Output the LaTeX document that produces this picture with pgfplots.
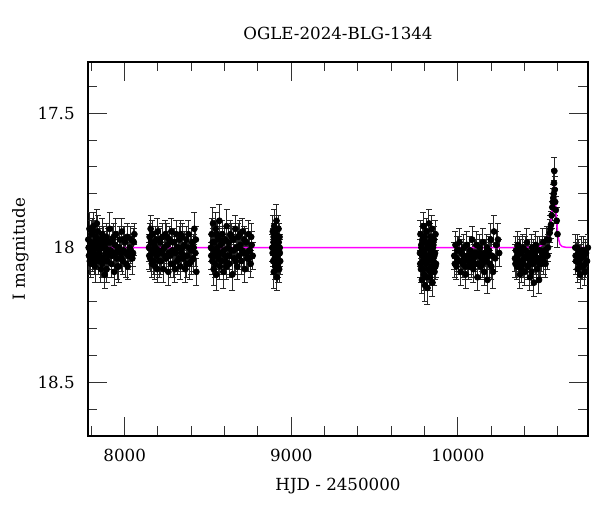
\documentclass[border=0pt]{standalone}
\usepackage{fontspec}
\setmainfont{DejaVu Serif}
\usepackage{pgfplots}
\usepackage{pgfplotstable}
\pgfplotsset{compat=1.18}
\definecolor{modelc}{RGB}{255,0,255}

% OGLE photometry: HJD-2450000, I mag, error
\pgfplotstableread{
x y e
7782 17.97 0.05
7786 18.03 0.05
7789 17.93 0.06
7793 18.01 0.05
7797 18.06 0.05
7801 17.95 0.05
7804 18.00 0.06
7808 18.04 0.05
7812 17.92 0.05
7815 18.02 0.05
7819 17.98 0.05
7823 18.07 0.06
7827 17.96 0.05
7831 18.03 0.05
7835 17.99 0.05
7839 17.94 0.06
7843 18.05 0.05
7848 18.01 0.05
7852 17.97 0.05
7857 18.08 0.05
7862 18.00 0.05
7866 17.95 0.06
7871 18.04 0.05
7876 17.99 0.05
7880 18.10 0.05
7885 18.02 0.05
7890 17.96 0.05
7895 18.05 0.06
7900 17.98 0.05
7905 18.03 0.05
7910 17.93 0.06
7915 18.01 0.05
7920 18.06 0.05
7926 17.97 0.05
7931 18.02 0.05
7937 18.09 0.05
7942 17.99 0.05
7948 17.95 0.06
7953 18.04 0.05
7959 18.00 0.05
7965 18.07 0.06
7971 17.97 0.05
7977 18.02 0.05
7983 17.94 0.05
7989 18.05 0.05
7995 18.01 0.05
8002 17.98 0.06
8008 18.06 0.05
8015 17.96 0.05
8022 18.03 0.05
8030 18.00 0.05
8038 17.97 0.05
8046 18.04 0.06
8055 17.98 0.05
8058 17.95 0.04
7784 18.00 0.05
7791 18.05 0.05
7799 17.98 0.05
7806 17.94 0.05
7817 18.05 0.05
7825 18.00 0.05
7833 17.91 0.05
7845 17.98 0.05
7854 18.03 0.05
7864 18.06 0.05
7873 17.97 0.05
7882 18.00 0.05
7892 18.08 0.05
7902 18.01 0.05
7912 17.98 0.05
7923 18.03 0.05
7934 17.96 0.05
7945 18.02 0.05
7956 18.07 0.05
7968 18.00 0.05
7980 18.04 0.05
7992 17.97 0.05
8005 18.02 0.05
8018 18.07 0.05
8034 18.01 0.05
8050 18.02 0.05
8146 18.00 0.05
8150 17.96 0.05
8154 18.04 0.05
8158 17.98 0.05
8163 18.06 0.05
8167 17.95 0.05
8172 18.02 0.05
8177 17.99 0.05
8182 18.07 0.05
8187 17.97 0.05
8192 18.03 0.05
8197 17.94 0.05
8203 18.01 0.05
8208 18.05 0.06
8214 17.98 0.05
8220 18.02 0.05
8226 17.96 0.05
8232 18.08 0.05
8238 18.00 0.05
8244 17.95 0.05
8250 18.04 0.05
8256 17.99 0.05
8262 18.09 0.05
8268 17.97 0.05
8274 18.03 0.05
8280 17.94 0.05
8286 18.01 0.05
8292 18.06 0.05
8298 17.98 0.05
8304 18.02 0.05
8310 17.95 0.05
8316 18.05 0.05
8322 18.00 0.05
8328 17.97 0.05
8334 18.07 0.05
8340 18.02 0.05
8346 17.96 0.05
8352 18.04 0.05
8358 17.99 0.05
8364 18.08 0.05
8370 17.97 0.05
8376 18.03 0.05
8383 17.95 0.05
8390 18.06 0.06
8397 18.01 0.05
8404 17.98 0.05
8411 18.04 0.05
8418 17.93 0.06
8424 18.02 0.05
8430 18.09 0.05
8148 18.03 0.05
8156 17.93 0.05
8165 18.01 0.05
8175 18.05 0.05
8185 18.00 0.05
8195 18.08 0.05
8206 17.97 0.05
8217 18.05 0.05
8229 18.01 0.05
8241 18.03 0.05
8253 17.96 0.05
8265 18.02 0.05
8277 18.06 0.05
8289 17.98 0.05
8301 18.08 0.05
8313 18.00 0.05
8325 18.04 0.05
8337 17.95 0.05
8349 18.00 0.05
8361 18.03 0.05
8373 18.06 0.05
8386 18.00 0.05
8400 18.05 0.05
8414 18.00 0.05
8427 17.97 0.05
8518 18.00 0.05
8522 17.95 0.06
8526 18.05 0.05
8530 17.91 0.06
8534 18.08 0.06
8538 17.98 0.05
8542 18.03 0.05
8546 17.93 0.06
8550 18.10 0.06
8555 18.00 0.05
8559 17.96 0.05
8563 18.04 0.05
8568 17.90 0.06
8572 18.07 0.05
8577 17.99 0.05
8582 18.02 0.05
8587 17.95 0.05
8592 18.09 0.06
8597 18.01 0.05
8602 17.97 0.05
8607 18.05 0.05
8612 17.92 0.06
8618 18.03 0.05
8623 17.98 0.05
8628 18.06 0.05
8634 17.95 0.05
8640 18.01 0.05
8646 18.10 0.06
8652 17.97 0.05
8658 18.04 0.05
8664 17.93 0.05
8670 18.00 0.05
8676 18.07 0.05
8682 17.96 0.05
8688 18.03 0.05
8694 17.99 0.05
8700 18.05 0.05
8707 17.94 0.05
8714 18.02 0.05
8721 18.08 0.05
8728 17.98 0.05
8735 18.04 0.05
8742 17.95 0.05
8749 18.01 0.05
8756 18.06 0.05
8762 17.99 0.05
8768 18.03 0.05
8520 18.03 0.05
8528 17.98 0.05
8536 18.01 0.05
8544 18.06 0.05
8552 17.95 0.05
8561 18.02 0.05
8570 17.97 0.05
8580 18.05 0.05
8590 17.98 0.05
8600 18.03 0.05
8610 18.07 0.05
8620 18.00 0.05
8631 18.03 0.05
8643 17.96 0.05
8655 18.01 0.05
8667 18.05 0.05
8679 18.00 0.05
8691 17.95 0.05
8704 18.01 0.05
8718 17.97 0.05
8732 18.02 0.05
8746 18.04 0.05
8759 17.96 0.05
8886 18.00 0.05
8889 17.94 0.06
8891 18.05 0.05
8893 17.98 0.05
8895 18.09 0.06
8897 17.92 0.06
8899 18.02 0.05
8901 17.96 0.05
8903 18.07 0.05
8905 18.00 0.05
8907 17.95 0.05
8909 18.04 0.05
8911 17.90 0.06
8913 18.11 0.05
8915 17.99 0.05
8917 18.03 0.05
8919 17.97 0.05
8921 18.06 0.05
8923 17.93 0.05
8925 18.01 0.05
8927 18.08 0.05
8929 17.96 0.05
8931 18.02 0.05
8933 18.05 0.05
8888 18.02 0.05
8894 17.96 0.05
8900 18.04 0.05
8906 17.99 0.05
8912 18.02 0.05
8918 18.08 0.05
8924 17.98 0.05
8930 18.00 0.05
9772 18.02 0.05
9775 17.95 0.05
9778 18.08 0.05
9781 18.00 0.05
9784 18.12 0.05
9787 17.97 0.05
9790 18.05 0.05
9793 17.92 0.05
9796 18.10 0.06
9799 18.01 0.05
9802 18.14 0.06
9805 17.98 0.05
9808 18.06 0.05
9811 17.94 0.05
9814 18.03 0.05
9817 18.15 0.06
9820 17.99 0.05
9823 18.08 0.05
9826 17.91 0.05
9829 18.04 0.05
9832 18.11 0.05
9835 17.96 0.05
9838 18.02 0.05
9841 18.07 0.05
9844 17.93 0.05
9847 18.13 0.05
9850 18.00 0.05
9853 18.05 0.05
9856 17.97 0.05
9859 18.09 0.05
9862 18.02 0.05
9865 17.95 0.05
9868 18.06 0.05
9774 18.06 0.05
9780 17.99 0.05
9786 18.03 0.05
9792 18.08 0.05
9798 17.96 0.05
9804 18.04 0.05
9810 18.11 0.05
9816 18.00 0.05
9822 18.05 0.05
9828 17.98 0.05
9834 18.09 0.05
9840 18.01 0.05
9846 18.04 0.05
9852 17.99 0.05
9858 18.03 0.05
9864 18.07 0.05
9978 18.03 0.05
9985 17.99 0.05
9991 18.07 0.05
9997 18.01 0.05
10003 18.05 0.05
10009 17.98 0.05
10016 18.09 0.05
10022 18.02 0.05
10028 18.06 0.05
10035 18.00 0.05
10041 18.04 0.05
10047 18.10 0.05
10054 17.99 0.05
10060 18.03 0.05
10066 18.07 0.05
10072 18.01 0.05
10079 18.05 0.05
10085 17.97 0.05
10092 18.08 0.05
10098 18.02 0.05
10104 18.06 0.05
10111 17.99 0.05
10117 18.11 0.05
10124 18.03 0.05
10130 18.00 0.05
10137 18.07 0.05
10143 18.04 0.05
10150 17.98 0.05
10157 18.09 0.05
10163 18.02 0.05
10170 18.05 0.06
10177 18.12 0.05
10184 18.01 0.05
10190 18.06 0.05
10197 17.97 0.06
10204 18.03 0.05
10210 18.09 0.06
10216 17.94 0.06
10223 18.04 0.05
10230 17.99 0.05
10240 17.97 0.06
10247 18.02 0.05
9981 18.06 0.05
9994 18.04 0.05
10006 18.01 0.05
10019 18.05 0.05
10032 18.03 0.05
10044 18.07 0.05
10057 18.05 0.05
10069 18.03 0.05
10082 18.06 0.05
10095 18.04 0.05
10108 18.02 0.05
10120 18.06 0.05
10134 18.02 0.05
10147 18.06 0.05
10160 18.04 0.05
10173 18.00 0.05
10187 18.03 0.05
10200 18.07 0.05
10342 18.04 0.05
10348 18.01 0.05
10354 18.07 0.05
10360 17.99 0.05
10366 18.05 0.05
10372 18.10 0.05
10378 18.02 0.05
10384 18.06 0.05
10390 18.00 0.05
10396 18.04 0.05
10402 18.09 0.05
10408 18.03 0.05
10414 17.98 0.05
10420 18.07 0.05
10426 18.02 0.05
10432 18.11 0.05
10438 18.04 0.05
10444 18.00 0.05
10450 18.06 0.05
10456 18.13 0.05
10462 18.03 0.05
10468 17.99 0.05
10474 18.08 0.05
10480 18.04 0.05
10486 18.12 0.05
10492 18.01 0.05
10498 18.06 0.05
10504 18.02 0.05
10510 17.98 0.05
10516 18.05 0.05
10522 18.01 0.05
10528 18.03 0.05
10534 17.97 0.05
10540 18.00 0.05
10345 18.06 0.05
10357 18.03 0.05
10369 18.01 0.05
10381 18.08 0.05
10393 18.06 0.05
10405 18.01 0.05
10417 18.04 0.05
10429 18.06 0.05
10441 18.09 0.05
10453 18.02 0.05
10465 18.05 0.05
10477 18.01 0.05
10489 18.06 0.05
10501 18.04 0.05
10513 18.02 0.05
10525 18.06 0.05
10537 18.03 0.05
10546 17.97 0.05
10550 17.945 0.05
10554 17.93 0.05
10558 17.915 0.05
10562 17.88 0.05
10566 17.85 0.05
10569 17.83 0.05
10572 17.815 0.05
10574 17.80 0.05
10576 17.76 0.05
10578 17.715 0.05
10580 17.785 0.05
10583 17.83 0.05
10587 17.86 0.05
10592 17.90 0.05
10597 17.95 0.05
10704 18.00 0.05
10708 18.05 0.05
10713 18.03 0.05
10718 18.08 0.05
10723 18.02 0.05
10728 18.06 0.05
10733 18.10 0.05
10738 18.04 0.05
10744 18.01 0.05
10750 18.07 0.05
10756 18.03 0.05
10762 18.09 0.05
10768 18.02 0.05
10774 18.05 0.05
10779 18.00 0.05
10706 18.03 0.05
10716 18.00 0.05
10726 18.04 0.05
10741 18.07 0.05
10753 18.01 0.05
10765 18.06 0.05
}\obsdata

% microlensing model curve
\pgfplotstableread{
x y
7780 18.0
10400 18.0
10480 17.997
10510 17.99
10530 17.975
10545 17.955
10553 17.93
10558 17.905
10563 17.87
10568 17.83
10572 17.80
10575 17.785
10577 17.78
10579 17.785
10582 17.80
10586 17.84
10590 17.88
10594 17.915
10598 17.945
10604 17.97
10612 17.988
10625 17.996
10650 17.999
10780 18.0
}\modeldata

\begin{document}
\begin{tikzpicture}
\useasboundingbox (0,0) rectangle (360pt,307.2pt);
\begin{axis}[
  at={(52.8pt,45.6pt)}, anchor=south west,
  scale only axis,
  width=300pt, height=224.4pt,
  xmin=7780, xmax=10780,
  ymin=17.31, ymax=18.70,
  y dir=reverse,
  scaled x ticks=false, scaled y ticks=false,
  axis line style={line width=0.8pt},
  xtick={8000,9000,10000},
  xticklabels={8000,9000,10000},
  ytick={17.5,18,18.5},
  yticklabels={17.5,18,18.5},
  minor xtick={7800,8200,8400,8600,8800,9200,9400,9600,9800,10200,10400,10600},
  minor ytick={17.4,17.6,17.7,17.8,17.9,18.1,18.2,18.3,18.4,18.6},
  tick align=inside,
  tick pos=both,
  major tick length=11.4pt,
  minor tick length=5.7pt,
  every tick/.style={black!80, line width=0.6pt},
  ticklabel style={font=\normalsize},
  xticklabel style={anchor=base, yshift=-15.6pt},
  yticklabel style={anchor=east, xshift=-4.5pt},
  title={OGLE-2024-BLG-1344},
  title style={at={(axis description cs:0.5,1.034)}, anchor=base},
  xlabel={HJD - 2450000},
  xlabel style={at={(axis description cs:0.5,-0.147)}, anchor=base},
  ylabel={I magnitude},
  ylabel style={at={(axis description cs:-0.126,0.5)}, anchor=base},
]
\addplot[only marks, mark=*, mark size=1.8pt, black,
  error bars/.cd, y dir=both, y explicit,
  error bar style={black!85, line width=0.6pt},
  error mark options={rotate=90, mark size=1.8pt, black!85, line width=0.6pt}]
  table[x=x, y=y, y error=e] {\obsdata};
\addplot[no marks, modelc, line width=0.9pt] table[x=x, y=y] {\modeldata};
\end{axis}
\end{tikzpicture}
\end{document}
